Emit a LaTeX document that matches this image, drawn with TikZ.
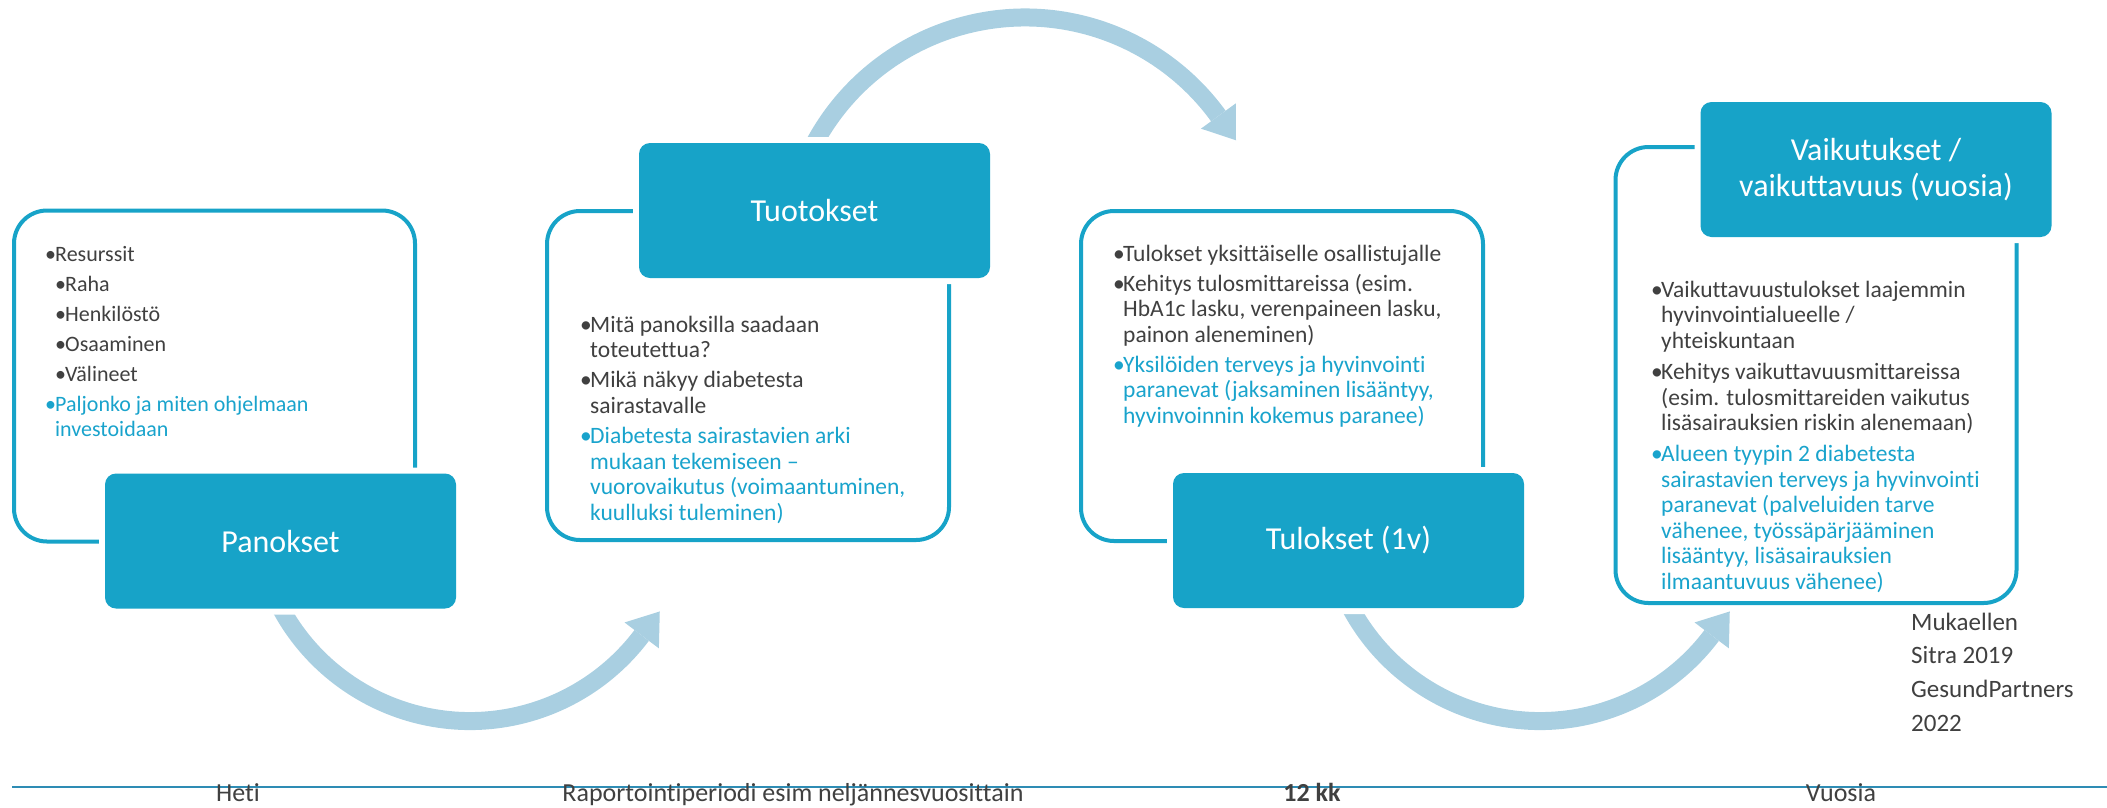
\documentclass[tikz,border=0pt]{standalone}
\usepackage{fontspec}
\setmainfont{Carlito}[Ligatures=NoCommon]
\usetikzlibrary{calc}
\definecolor{boxblue}{RGB}{23,163,200}
\definecolor{txtblue}{RGB}{25,163,204}
\definecolor{txtgray}{RGB}{64,64,64}
\definecolor{arrcol}{RGB}{169,207,225}
\definecolor{linecol}{RGB}{46,140,180}
\newcommand\mystrut{\rule{0pt}{18pt}}
\newcommand\bl{\makebox[10pt][l]{•}}
\newcommand\ind{\hspace*{10pt}}
\newcommand\bt[1]{\textcolor{txtblue}{#1}}
\begin{document}
\begin{tikzpicture}[x=1pt,y=1pt,
  outlbox/.style={draw=boxblue, line width=4pt, rounded corners=33pt, inner sep=0pt},
  headbox/.style={fill=boxblue, rounded corners=11pt, inner sep=0pt, minimum width=351pt, minimum height=135pt,
     text=white, font=\fontsize{32}{36}\selectfont, align=center, preaction={draw=white, line width=12pt}},
  bodytext/.style={anchor=north west, inner sep=0pt, align=left, text=txtgray, font=\fontsize{23.5}{25.5}\selectfont},
  arrowband/.style={draw=arrcol, line width=18pt},
  arrowtip/.style={fill=arrcol},
  bottomlbl/.style={anchor=base, inner sep=0pt, text=txtgray, font=\fontsize{26}{30}\selectfont},
  baseline/.style={draw=linecol, line width=2pt}
]
\useasboundingbox (0,0) rectangle (2107,-807);

% outline frames
\node[outlbox, minimum width=401pt, minimum height=331pt] (o1) at (214.5,-376) {};
\node[outlbox, minimum width=402pt, minimum height=329pt] (o2) at (748,-375.5) {};
\node[outlbox, minimum width=402pt, minimum height=330pt] (o3) at (1282,-376) {};
\node[outlbox, minimum width=401pt, minimum height=456pt] (o4) at (1816,-375) {};

% arc centres
\coordinate (c1) at (470,-506);
\coordinate (c2) at (1025,-256.5);
\coordinate (c3) at (1540,-506);

% curved arrows
\draw[arrowband] ($(c1)+(200:215pt)$) arc[start angle=200, end angle=323, radius=215pt];
\fill[arrowtip] ($(c1)+(323:236.5pt)$) -- ($(c1)+(323:193.5pt)$) -- ($(c1)+(323:215pt)+(53:30pt)$) -- cycle;

\draw[arrowband] ($(c2)+(155:239pt)$) arc[start angle=155, end angle=36, radius=239pt];
\fill[arrowtip] ($(c2)+(36:260.5pt)$) -- ($(c2)+(36:217.5pt)$) -- ($(c2)+(36:239pt)+(-54:30pt)$) -- cycle;

\draw[arrowband] ($(c3)+(200:215pt)$) arc[start angle=200, end angle=323, radius=215pt];
\fill[arrowtip] ($(c3)+(323:236.5pt)$) -- ($(c3)+(323:193.5pt)$) -- ($(c3)+(323:215pt)+(53:30pt)$) -- cycle;

% header boxes
\node[headbox] (h1) at (280.5,-541) {Panokset};
\node[headbox] (h2) at (814.5,-210.5) {Tuotokset};
\node[headbox] (h3) at (1348.5,-540.5) {Tulokset (1v)};
\node[headbox] (h4) at (1876,-169.5) {Vaikutukset /\\vaikuttavuus (vuosia)};

% body texts
\node[bodytext, font=\fontsize{22}{25.5}\selectfont] (t1) at (45,-243) {\mystrut\bl Resurssit\\[4.5pt]
\ind\bl Raha\\[4.5pt]
\ind\bl Henkilöstö\\[4.5pt]
\ind\bl Osaaminen\\[4.5pt]
\ind\bl Välineet\\[4.5pt]
\bt{\bl Paljonko ja miten ohjelmaan}\\
\bt{\ind investoidaan}};

\node[bodytext] (t2) at (580,-314) {\mystrut\bl Mitä panoksilla saadaan\\
\ind toteutettua?\\[4.5pt]
\bl Mikä näkyy diabetesta\\
\ind sairastavalle\\[5pt]
\bt{\bl Diabetesta sairastavien arki}\\
\bt{\ind mukaan tekemiseen –}\\
\bt{\ind vuorovaikutus (voimaantuminen,}\\
\bt{\ind kuulluksi tuleminen)}};

\node[bodytext] (t3) at (1113,-243) {\mystrut\bl Tulokset yksittäiselle osallistujalle\\[4.5pt]
\bl Kehitys tulosmittareissa (esim.\\
\ind HbA1c lasku, verenpaineen lasku,\\
\ind painon aleneminen)\\[4.5pt]
\bt{\bl Yksilöiden terveys ja hyvinvointi}\\
\bt{\ind paranevat (jaksaminen lisääntyy,}\\
\bt{\ind hyvinvoinnin kokemus paranee)}};

\node[bodytext] (t4) at (1651,-279) {\mystrut\bl Vaikuttavuustulokset laajemmin\\
\ind hyvinvointialueelle /\\
\ind yhteiskuntaan\\[6pt]
\bl Kehitys vaikuttavuusmittareissa\\
\ind (esim. tulosmittareiden vaikutus\\
\ind lisäsairauksien riskin alenemaan)\\[5.5pt]
\bt{\bl Alueen tyypin 2 diabetesta}\\
\bt{\ind sairastavien terveys ja hyvinvointi}\\
\bt{\ind paranevat (palveluiden tarve}\\
\bt{\ind vähenee, työssäpärjääminen}\\
\bt{\ind lisääntyy, lisäsairauksien}\\
\bt{\ind ilmaantuvuus vähenee)}};

% source note
\node[anchor=north west, inner sep=0pt, align=left, text=txtgray, font=\fontsize{25}{33.6}\selectfont] (src) at (1911,-610)
 {\rule{0pt}{20pt}Mukaellen\\Sitra 2019\\GesundPartners\\2022};

% timeline
\coordinate (bl0) at (12,-787);
\coordinate (bl1) at (2107,-787);
\draw[baseline] (bl0) -- (bl1);
\node[bottomlbl] (b1) at (238,-801) {Heti};
\node[bottomlbl] (b2) at (793,-801) {Raportointiperiodi esim neljännesvuosittain};
\node[bottomlbl] (b3) at (1312,-801) {\textbf{12 kk}};
\node[bottomlbl] (b4) at (1841,-801) {Vuosia};
\end{tikzpicture}
\end{document}
